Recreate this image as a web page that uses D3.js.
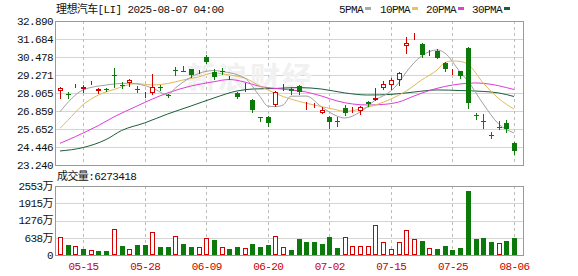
<!DOCTYPE html>
<html>
<head>
<meta charset="utf-8">
<script src="https://cdn.jsdelivr.net/npm/d3@7"></script>
<style>
body { margin: 0; background: #fff; }
svg text { font-family: "Liberation Mono", "Noto Sans CJK SC", monospace; font-size: 11px; letter-spacing: -0.6px; fill: #111; }
</style>
</head>
<body>
<script>
// trading days shown (MM-DD)
const dates = ['05-12','05-13','05-14','05-15','05-16','05-19','05-20','05-21','05-22','05-23',
  '05-27','05-28','05-29','05-30','06-02','06-03','06-04','06-05','06-06','06-09',
  '06-10','06-11','06-12','06-13','06-16','06-17','06-18','06-20','06-23','06-24',
  '06-25','06-26','06-27','06-30','07-01','07-02','07-03','07-07','07-08','07-09',
  '07-10','07-11','07-14','07-15','07-16','07-17','07-18','07-21','07-22','07-23',
  '07-24','07-25','07-28','07-29','07-30','07-31','08-01','08-04','08-05','08-06'];

const opens = [28.22,28.02,28.62,28.31,28.70,28.22,28.32,29.30,28.62,28.72,
  28.33,27.94,28.05,28.45,27.96,29.58,29.57,29.64,29.50,30.48,
  29.49,29.56,29.02,28.05,28.23,27.60,26.45,26.44,27.26,28.46,
  28.35,28.53,27.30,27.23,26.75,26.44,26.16,27.08,26.94,26.88,
  27.45,27.60,28.42,28.60,28.94,31.22,31.86,31.33,30.74,30.88,
  30.10,29.50,29.54,31.06,26.56,26.22,25.26,25.82,26.08,24.74];
const highs = [28.47,28.15,28.68,28.58,28.89,28.42,28.42,29.72,28.82,28.97,
  28.53,28.15,29.37,28.62,28.02,29.78,29.87,29.70,29.62,30.60,
  29.67,29.72,29.20,28.12,28.74,27.65,26.46,26.52,28.20,28.65,
  28.45,28.60,27.43,27.38,27.15,26.50,26.44,27.26,27.10,27.20,
  27.55,28.42,28.87,29.05,29.48,31.84,32.07,31.44,30.92,30.99,
  30.15,29.70,29.56,31.15,26.75,26.63,25.45,26.19,26.24,24.80];
const lows = [27.75,27.72,28.45,28.11,28.69,28.08,28.18,28.47,28.38,28.52,
  28.15,27.78,28.00,28.26,27.80,29.27,29.52,29.16,29.42,30.06,
  28.98,29.35,29.00,27.70,28.20,26.81,26.21,25.85,27.20,28.27,
  28.00,28.00,26.97,27.12,26.72,25.70,25.85,26.60,26.82,26.65,
  27.20,27.58,28.31,28.31,28.60,30.77,31.66,30.48,30.62,30.40,
  29.54,29.33,29.09,27.04,26.35,25.69,25.03,25.63,25.47,23.96];
const closes = [28.38,27.99,28.67,28.49,28.72,28.30,28.29,29.27,28.59,28.94,
  28.31,27.97,28.44,28.42,27.92,29.56,29.54,29.27,29.54,30.16,
  29.12,29.54,29.04,27.78,28.27,26.93,26.42,26.04,28.15,28.49,
  28.22,28.16,27.42,27.26,26.93,26.14,26.12,26.75,26.97,27.15,
  27.30,27.70,28.69,28.92,29.43,31.44,31.89,30.59,30.77,30.43,
  29.65,29.55,29.20,27.42,26.53,26.19,25.23,25.79,25.63,24.18];
// volume, in 万 shares
const volumes = [677,370,344,222,185,148,148,951,333,222,
  358,358,840,284,284,691,407,296,284,617,
  555,284,222,296,247,407,296,358,691,284,
  185,592,492,492,418,666,259,655,322,322,
  322,1110,481,233,481,925,592,518,248,222,
  322,185,259,2368,592,629,492,444,518,627];
const lastVolume = 6273418;

// moving averages at sample days
const ma5Idx = [0,3,6,9,12,14,15,18,20,21,24,26,27,28,29,30,32,34,36,37,39,41,43,44,45,47,49,50,52,53,55,57,59];
const ma5 = [26.81,28.27,28.60,28.72,28.40,27.95,28.40,29.37,29.57,29.51,29.07,27.82,27.19,27.15,27.26,27.85,27.86,27.13,26.52,26.39,26.79,27.60,28.20,28.74,29.47,30.55,30.95,30.75,29.47,28.87,27.33,25.99,25.39];
const ma10Idx = [0,1,3,5,7,10,12,14,16,18,20,22,24,26,28,30,32,34,36,37,39,41,43,45,47,49,50,51,52,53,55,57,59];
const ma10 = [25.70,26.22,27.28,27.93,28.30,28.70,28.60,28.70,28.94,29.14,29.41,29.27,29.07,28.53,28.03,27.66,27.38,27.15,26.93,26.83,26.99,27.26,27.66,28.20,28.94,29.61,30.10,30.21,30.18,29.99,28.74,27.70,26.99];
const ma20Idx = [0,2,5,7,10,12,14,17,20,22,24,26,28,30,32,34,36,38,40,42,44,46,48,50,52,54,56,58,59];
const ma20 = [24.69,25.14,25.89,26.46,27.19,27.66,28.07,28.53,28.82,28.97,28.80,28.50,28.37,28.27,28.13,27.86,27.53,27.33,27.26,27.30,27.46,27.86,28.23,28.50,28.67,28.74,28.65,28.43,28.30];
const ma30Idx = [0,3,6,8,11,14,17,20,23,25,28,31,34,37,40,43,46,49,52,55,57,59];
const ma30 = [24.18,24.41,24.95,25.55,26.06,26.66,27.19,27.73,28.20,28.33,28.37,28.43,28.33,28.07,27.93,27.97,28.13,28.27,28.23,28.17,28.07,27.83];

const priceTicks = ['32.890','31.684','30.478','29.271','28.065','26.859','25.652','24.446','23.240'];
const volTicks = ['2553万','1915万','1276万','638万','0'];
const dateTicks = ['05-15','05-28','06-09','06-20','07-02','07-15','07-25','08-06'];
const maNames = ['5PMA','10PMA','20PMA','30PMA'];

const width = 578;
const height = 276;
const left = 55, right = 523;
const pTop = 21, pBottom = 165;
const vTop = 186, vBottom = 255;
const red = '#d40000', green = '#0b7a0b';
const maColors = ['#a0a0a0', '#e2b95a', '#e03ad8', '#1b5e3b'];
const legendColors = ['#a8a8a8', '#e8c84a', '#e040d8', '#1b5e3b'];

const svg = d3.select('body').append('svg')
    .attr('width', width)
    .attr('height', height);

const x = d3.scalePoint()
    .domain(d3.range(dates.length))
    .range([60, 514]);
const y = d3.scaleLinear()
    .domain([+priceTicks[priceTicks.length - 1], +priceTicks[0]])
    .range([pBottom, pTop]);
const yv = d3.scaleLinear()
    .domain([0, parseFloat(volTicks[0])])
    .range([vBottom, vTop]);

const px = i => Math.round(x(i));
const crisp = v => Math.round(v) + 0.5;

// grid
const grid = svg.append('g');
grid.selectAll('.hp')
    .data(priceTicks)
  .enter().append('line')
    .attr('x1', left).attr('x2', right)
    .attr('y1', d => crisp(y(+d))).attr('y2', d => crisp(y(+d)))
    .attr('stroke', '#d4d4d4');
grid.selectAll('.hv')
    .data(volTicks)
  .enter().append('line')
    .attr('x1', left).attr('x2', right)
    .attr('y1', d => crisp(yv(parseFloat(d)))).attr('y2', d => crisp(yv(parseFloat(d))))
    .attr('stroke', '#d4d4d4');
[[pTop, pBottom], [vTop, vBottom]].forEach(r => {
  grid.selectAll(null)
      .data(dateTicks)
    .enter().append('line')
      .attr('x1', d => px(dates.indexOf(d)) + 0.5).attr('x2', d => px(dates.indexOf(d)) + 0.5)
      .attr('y1', r[0]).attr('y2', r[1])
      .attr('stroke', '#bdbdbd')
      .attr('stroke-dasharray', '3,3');
});

// faint watermark
svg.append('text')
    .attr('x', 250).attr('y', 88)
    .attr('text-anchor', 'middle')
    .style('font-size', '30px')
    .style('font-weight', 'bold')
    .style('fill', '#f1f1f1')
    .style('letter-spacing', '2px')
    .text('新浪财经');

// moving averages
const line = d3.line()
    .x(d => x(d[0]))
    .y(d => y(d[1]))
    .curve(d3.curveMonotoneX);
[[ma30Idx, ma30], [ma20Idx, ma20], [ma10Idx, ma10], [ma5Idx, ma5]].forEach((m, k) => {
  svg.append('path')
      .datum(m[0].map((i, j) => [i, m[1][j]]))
      .attr('d', line)
      .attr('fill', 'none')
      .attr('stroke', maColors[3 - k])
      .attr('stroke-width', 1);
});

// candles
const candles = svg.selectAll('.candle')
    .data(d3.range(dates.length))
  .enter().append('g');

candles.append('line')
    .attr('x1', i => px(i) + 0.5).attr('x2', i => px(i) + 0.5)
    .attr('y1', i => Math.round(y(highs[i]))).attr('y2', i => Math.round(y(lows[i])) + 1)
    .attr('stroke', i => closes[i] >= opens[i] ? red : green);

candles.append('rect')
    .attr('x', i => closes[i] >= opens[i] ? px(i) - 1.5 : px(i) - 2)
    .attr('y', i => {
      const t = Math.round(y(Math.max(opens[i], closes[i])));
      return closes[i] >= opens[i] ? t + 0.5 : t;
    })
    .attr('width', i => closes[i] >= opens[i] ? 4 : 5)
    .attr('height', i => {
      const h = Math.round(y(Math.min(opens[i], closes[i]))) - Math.round(y(Math.max(opens[i], closes[i])));
      return closes[i] >= opens[i] ? Math.max(0, h - 1) : Math.max(1, h);
    })
    .attr('fill', i => closes[i] >= opens[i] ? '#fff' : green)
    .attr('stroke', i => closes[i] >= opens[i] ? red : 'none');

// volume bars: colour by change against previous close
const upDay = i => i === 0 || closes[i] >= closes[i - 1];
svg.selectAll('.vol')
    .data(d3.range(volumes.length))
  .enter().append('rect')
    .attr('x', i => upDay(i) ? px(i) - 1.5 : px(i) - 2)
    .attr('y', i => upDay(i) ? Math.round(yv(volumes[i])) + 0.5 : Math.round(yv(volumes[i])))
    .attr('width', i => upDay(i) ? 4 : 5)
    .attr('height', i => upDay(i) ? vBottom - Math.round(yv(volumes[i])) - 1 : vBottom - Math.round(yv(volumes[i])))
    .attr('fill', i => upDay(i) ? '#fff' : green)
    .attr('stroke', i => upDay(i) ? red : 'none');

// frames
svg.append('rect')
    .attr('x', left + 0.5).attr('y', pTop + 0.5)
    .attr('width', right - left).attr('height', pBottom - pTop)
    .attr('fill', 'none').attr('stroke', '#9a9a9a');
svg.append('rect')
    .attr('x', left + 0.5).attr('y', vTop + 0.5)
    .attr('width', right - left).attr('height', vBottom - vTop)
    .attr('fill', 'none').attr('stroke', '#9a9a9a');

// axis labels
svg.selectAll('.pl')
    .data(priceTicks)
  .enter().append('text')
    .attr('x', 53).attr('y', d => y(+d))
    .attr('dy', '.36em')
    .attr('text-anchor', 'end')
    .text(d => d);
svg.selectAll('.vl')
    .data(volTicks)
  .enter().append('text')
    .attr('x', 53).attr('y', d => yv(parseFloat(d)))
    .attr('dy', '.36em')
    .attr('text-anchor', 'end')
    .text(d => d);
svg.selectAll('.dl')
    .data(dateTicks)
  .enter().append('text')
    .attr('x', d => x(dates.indexOf(d)) + 0.5).attr('y', 266)
    .attr('dy', '.36em')
    .attr('text-anchor', 'middle')
    .style('fill', '#c80000')
    .text(d => d);

// title, legend, volume caption
svg.append('text')
    .attr('x', 56).attr('y', 9)
    .attr('dy', '.36em')
    .text('理想汽车[LI] 2025-08-07 04:00');

svg.append('text')
    .attr('x', 57).attr('y', 176)
    .attr('dy', '.36em')
    .text('成交量:' + lastVolume);

const legendX = [339, 380, 426, 472];
maNames.forEach((n, k) => {
  svg.append('text')
      .attr('x', legendX[k]).attr('y', 9)
      .attr('dy', '.36em')
      .text(n);
  svg.append('rect')
      .attr('x', legendX[k] + n.length * 6 + 2).attr('y', 7)
      .attr('width', 6).attr('height', 3)
      .attr('fill', legendColors[k]);
});
</script>
</body>
</html>
